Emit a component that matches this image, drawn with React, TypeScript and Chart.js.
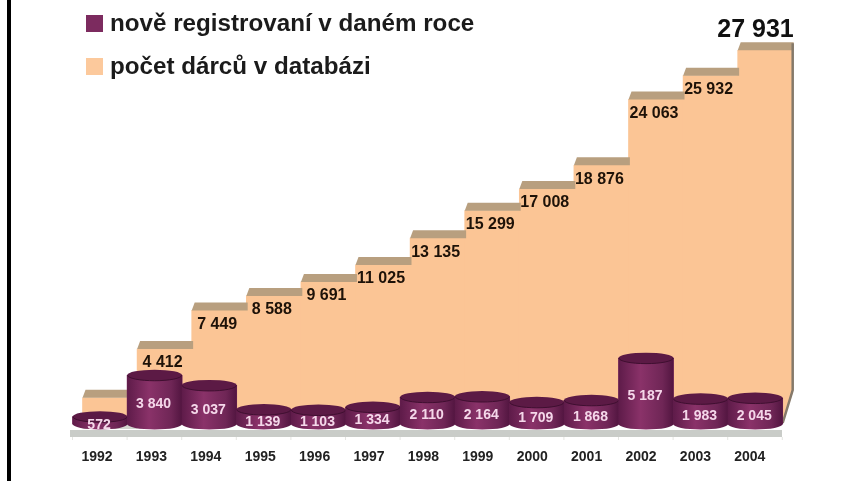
import React, { useEffect, useRef } from "react";
import { Chart, registerables } from "chart.js";

Chart.register(...registerables);

const years = [1992, 1993, 1994, 1995, 1996, 1997, 1998, 1999, 2000, 2001, 2002, 2003, 2004];
const newDonors = [572, 3840, 3037, 1139, 1103, 1334, 2110, 2164, 1709, 1868, 5187, 1983, 2045];
const totalDonors = [572, 4412, 7449, 8588, 9691, 11025, 13135, 15299, 17008, 18876, 24063, 25932, 27931];
const newLabel = "nově registrovaní v daném roce";
const totalLabel = "počet dárců v databázi";

const FONT = "'Liberation Sans', Arial, sans-serif";
const PURPLE = "#7c2b5f";
const PEACH = "#fbc595";
const fmt = (v: number) => String(v).replace(/\B(?=(\d{3})+$)/g, " ");

const decor = {
  id: "decor",
  beforeDraw(chart: any) {
    const c = chart.ctx;
    c.save();
    c.fillStyle = "#fff";
    c.fillRect(0, 0, chart.width, chart.height);
    c.fillStyle = "#000";
    c.fillRect(7, 0, 4, chart.height);
    c.restore();
  },
  afterDatasetDraw(chart: any, args: any) {
    const c = chart.ctx;
    c.save();
    if (args.index === 1) {
      const bars = chart.getDatasetMeta(1).data;
      // back wall behind the first (lowest) step
      const b0 = bars[0];
      c.fillStyle = "#d3d5cf";
      c.fillRect(b0.x - b0.width / 2, b0.base, b0.width, 8);
      // tops of the steps
      bars.forEach((b: any) => {
        const l = b.x - b.width / 2;
        const r = b.x + b.width / 2;
        c.fillStyle = "#b89f7f";
        c.beginPath();
        c.moveTo(l, b.y);
        c.lineTo(l + 3, b.y - 8);
        c.lineTo(r + 1, b.y - 8);
        c.lineTo(r + 1, b.y);
        c.closePath();
        c.fill();
      });
      // right side wall and cut corner
      const last = bars[bars.length - 1];
      const r = last.x + last.width / 2;
      c.fillStyle = "#fff";
      c.beginPath();
      c.moveTo(r + 1, 390);
      c.lineTo(r + 1, last.base + 2);
      c.lineTo(r - 10, last.base + 2);
      c.closePath();
      c.fill();
      c.strokeStyle = "#85796a";
      c.lineWidth = 2.5;
      c.beginPath();
      c.moveTo(r, last.y - 7);
      c.lineTo(r, 390);
      c.lineTo(r - 10, last.base + 2);
      c.stroke();
      // floor
      c.fillStyle = "#c9ccc8";
      c.fillRect(70, 430, 712, 7);
      c.fillStyle = "#e4e5e2";
      for (let i = 0; i <= years.length; i++) {
        c.fillRect(72 + i * 54.6, 437, 1, 3);
      }
      // step labels
      c.fillStyle = "#1d1208";
      c.textBaseline = "middle";
      c.textAlign = "center";
      c.font = `bold 16px ${FONT}`;
      totalDonors.forEach((v, i) => {
        if (i === 0 || i === totalDonors.length - 1) return;
        c.fillText(fmt(v), bars[i].x - 2, bars[i].y + 14);
      });
      c.fillStyle = "#111";
      c.textAlign = "right";
      c.font = `bold 25px ${FONT}`;
      c.fillText(fmt(totalDonors[totalDonors.length - 1]), r + 1, last.y - 20);
    }
    if (args.index === 0) {
      const bars = chart.getDatasetMeta(0).data;
      bars.forEach((b: any, i: number) => {
        const l = b.x - b.width / 2;
        const w = b.width;
        const ry = 5.5;
        const g = c.createLinearGradient(l, 0, l + w, 0);
        g.addColorStop(0, "#5e1b49");
        g.addColorStop(0.4, "#8a3269");
        g.addColorStop(0.8, "#6f2656");
        g.addColorStop(1, "#521540");
        c.fillStyle = g;
        c.beginPath();
        c.moveTo(l, b.y);
        c.lineTo(l, b.base);
        c.ellipse(b.x, b.base, w / 2, ry, 0, Math.PI, 0, true);
        c.lineTo(l + w, b.y);
        c.closePath();
        c.fill();
        c.fillStyle = "#5c1a45";
        c.beginPath();
        c.ellipse(b.x, b.y, w / 2, ry, 0, 0, Math.PI * 2);
        c.fill();
        c.strokeStyle = "#3f0f30";
        c.lineWidth = 1;
        c.beginPath();
        c.ellipse(b.x, b.y, w / 2 - 0.5, ry, 0, 0, Math.PI);
        c.stroke();
        c.fillStyle = "#f5d8ea";
        c.textAlign = "center";
        c.textBaseline = "middle";
        c.font = `bold 14px ${FONT}`;
        c.fillText(fmt(newDonors[i]), b.x - 1, (b.y + b.base) / 2 + 5);
      });
    }
    c.restore();
  },
  afterDraw(chart: any) {
    const c = chart.ctx;
    c.save();
    c.textAlign = "left";
    c.textBaseline = "middle";
    c.font = `bold 24.2px ${FONT}`;
    [
      [chart.data.datasets[0].label, PURPLE, 15],
      [chart.data.datasets[1].label, "#fcc99c", 58],
    ].forEach(([text, color, y]: any) => {
      c.fillStyle = color;
      c.fillRect(86, y, 17, 17);
      c.fillStyle = "#1b1b1b";
      c.fillText(text, 110, y + 9);
    });
    c.restore();
  },
};

export default function App() {
  const ref = useRef<HTMLCanvasElement>(null);
  useEffect(() => {
    const chart = new Chart(ref.current!, {
      type: "bar",
      plugins: [decor],
      data: {
        datasets: [
          {
            label: newLabel,
            data: years.map((x, i) => ({ x, y: newDonors[i] })),
            backgroundColor: PURPLE,
            barThickness: 55,
            grouped: false,
            xAxisID: "x",
            yAxisID: "y",
            order: 0,
          },
          {
            label: totalLabel,
            data: years.map((x, i) => ({ x, y: totalDonors[i] })),
            backgroundColor: PEACH,
            barThickness: 55,
            grouped: false,
            xAxisID: "x2",
            yAxisID: "y2",
            order: 1,
            base: (ctx: any) => (ctx.dataIndex === 0 ? 0 : -1260),
          } as any,
        ],
      },
      options: {
        responsive: false,
        animation: false,
        layout: { padding: 0 },
        plugins: { legend: { display: false }, tooltip: { enabled: false } },
        scales: {
          x: { type: "linear", offset: false, display: false, min: 1990.168, max: 2005.663 },
          x2: { type: "linear", offset: false, display: false, min: 1989.985, max: 2005.48 },
          x3: {
            type: "linear",
            offset: false,
            position: "bottom",
            min: 1990.217,
            max: 2005.768,
            grid: { display: false },
            border: { display: false },
            afterBuildTicks: (axis: any) => {
              axis.ticks = years.map((value) => ({ value }));
            },
            afterFit: (axis: any) => {
              axis.height = 51;
            },
            ticks: {
              autoSkip: false,
              maxRotation: 0,
              padding: 11,
              color: "#222",
              font: { family: FONT, size: 14, weight: "bold" },
              callback: (v: any) => String(v),
            },
          },
          y: { display: false, min: -472, max: 33386 },
          y2: { display: false, min: -1969, max: 31890 },
        },
      } as any,
    });
    return () => chart.destroy();
  }, []);
  return (
    <div style={{ position: "absolute", left: 0, top: 0, width: 846, height: 481, overflow: "hidden" }}>
      <canvas ref={ref} width={846} height={481} style={{ display: "block", filter: "blur(0.5px)" }} />
    </div>
  );
}
